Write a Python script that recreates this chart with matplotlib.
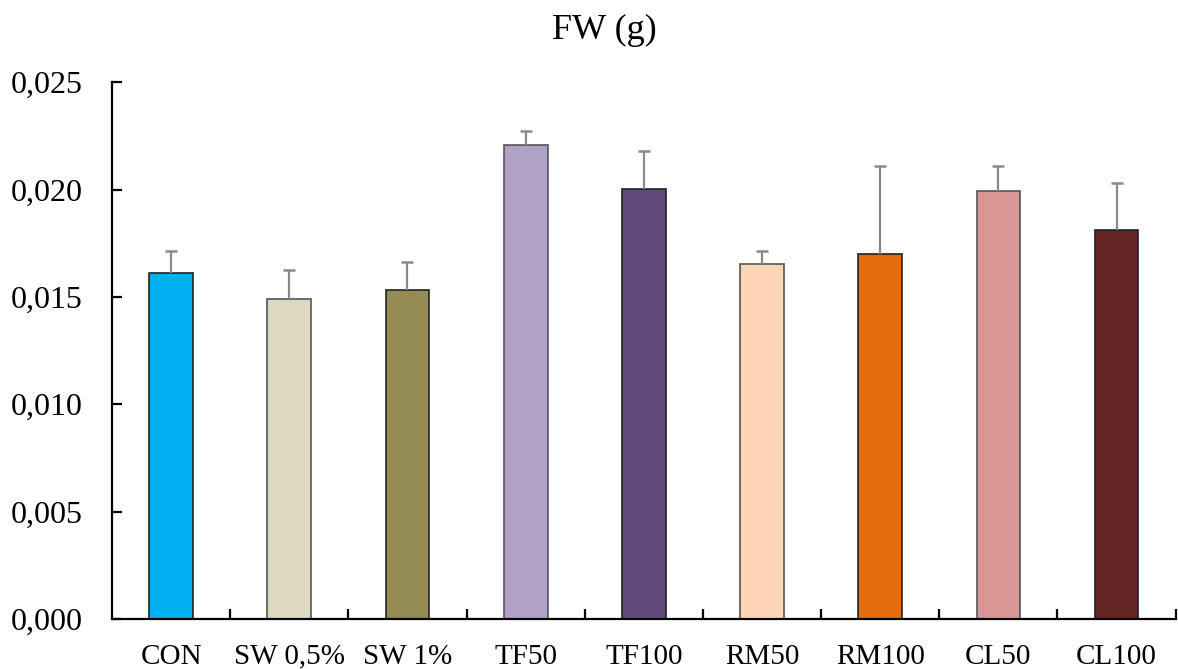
import matplotlib
matplotlib.use("Agg")
import matplotlib.pyplot as plt
from matplotlib.ticker import FuncFormatter, FixedLocator
import numpy as np

categories = ["CON", "SW 0,5%", "SW 1%", "TF50", "TF100", "RM50", "RM100", "CL50", "CL100"]
means = [0.01611, 0.01490, 0.01532, 0.02207, 0.02002, 0.01653, 0.01699, 0.01993, 0.01811]
err_top = [0.01713, 0.01625, 0.01662, 0.02272, 0.02179, 0.01713, 0.02109, 0.02109, 0.02030]
colors = ["#00B0F0", "#DDD9C3", "#948A54", "#B2A1C7", "#604A7B", "#FCD5B5", "#E46C0A", "#D99694", "#632423"]
yticks = [0.000, 0.005, 0.010, 0.015, 0.020, 0.025]
title = "FW (g)"

plt.rcParams['font.family'] = ['Liberation Serif', 'DejaVu Serif']

fig = plt.figure(figsize=(11.78, 6.69), dpi=100)
ax = fig.add_axes([0.0951, 0.075, 0.9029, 0.802])

x = np.arange(len(categories))
errs = [t - m for t, m in zip(err_top, means)]
edge = ["#555555" if c in ("#DDD9C3", "#FCD5B5", "#D99694", "#B2A1C7") else "#222222" for c in colors]
ax.bar(x, means, width=0.37, color=colors, edgecolor=edge, linewidth=1.2, zorder=2)
eb = ax.errorbar(x, means, yerr=[np.zeros(len(x)), errs], fmt='none', ecolor="#8a8a8a",
                 elinewidth=1.6, capsize=4.3, capthick=1.8, zorder=3)
for cl in eb[1]:
    if np.allclose(cl.get_ydata(), means):
        cl.set_visible(False)

ax.set_xlim(-0.5, len(categories) - 0.5)
ax.set_ylim(0, 0.025)
ax.set_yticks(yticks)
ax.yaxis.set_major_formatter(FuncFormatter(lambda v, p: f"{v:.3f}".replace('.', ',')))
ax.set_xticks(x)
ax.set_xticklabels(categories)
ax.xaxis.set_minor_locator(FixedLocator(np.arange(0.5, len(categories), 1)))
ax.tick_params(axis='x', which='major', length=0, pad=18, labelsize=21)
ax.tick_params(axis='x', which='minor', direction='in', length=7, width=1.6)
ax.tick_params(axis='y', which='major', direction='in', length=7, width=1.6, pad=21, labelsize=23)

for s in ("top", "right"):
    ax.spines[s].set_visible(False)
for s in ("left", "bottom"):
    ax.spines[s].set_linewidth(1.6)

fig.text(0.513, 0.955, title, ha='center', va='center', fontsize=26)

fig.savefig("out.png", dpi=100)
